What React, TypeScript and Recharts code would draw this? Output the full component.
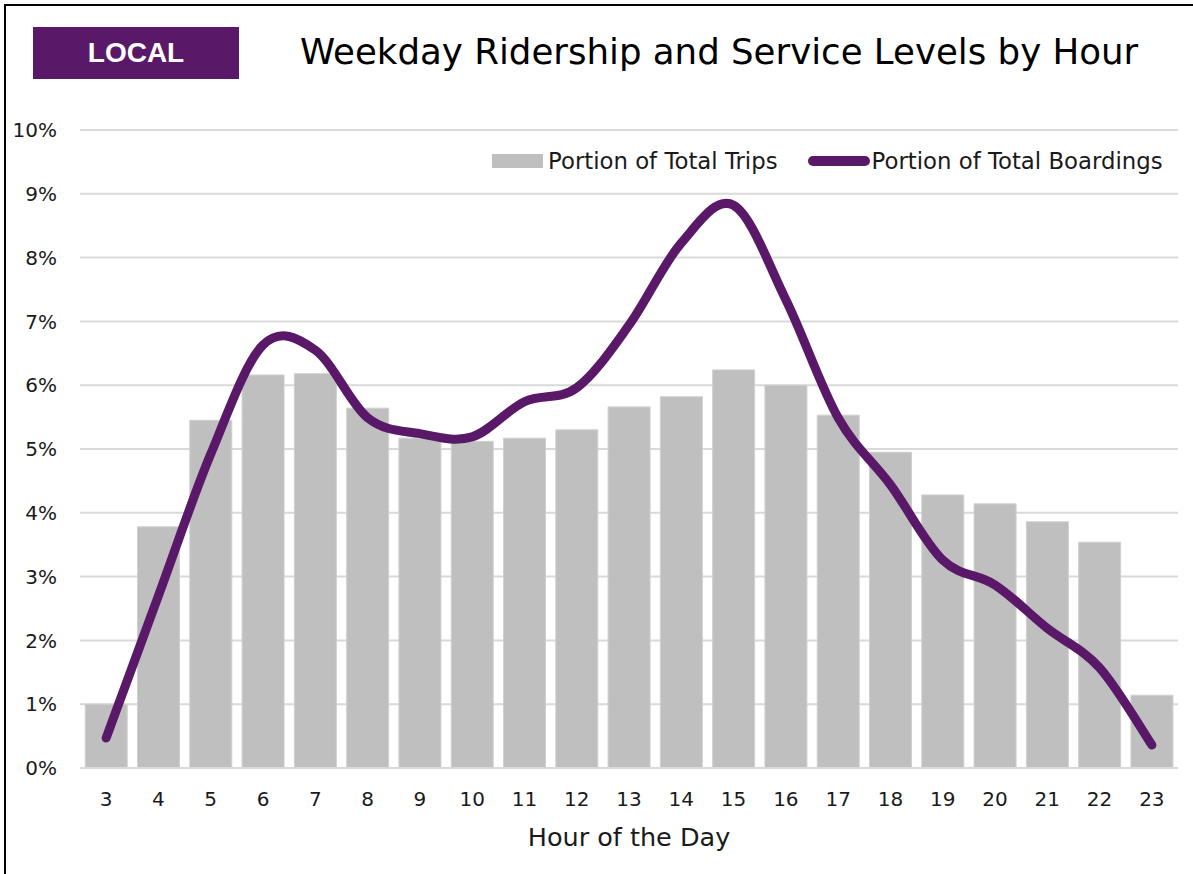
import React from 'react';
import { ComposedChart, Bar, Line, XAxis, YAxis, CartesianGrid } from 'recharts';

const hours = [3, 4, 5, 6, 7, 8, 9, 10, 11, 12, 13, 14, 15, 16, 17, 18, 19, 20, 21, 22, 23];
const tripShare = [1.0, 3.78, 5.45, 6.16, 6.18, 5.64, 5.17, 5.12, 5.17, 5.3, 5.66, 5.82, 6.24, 6.0, 5.53, 4.95, 4.28, 4.14, 3.86, 3.54, 1.14];
const boardingShare = [0.47, 2.7, 4.92, 6.63, 6.55, 5.49, 5.24, 5.19, 5.74, 5.96, 6.94, 8.23, 8.82, 7.34, 5.49, 4.44, 3.26, 2.87, 2.19, 1.57, 0.36];
const yTicks = [0, 1, 2, 3, 4, 5, 6, 7, 8, 9, 10];

const data = hours.map((h, i) => ({ hour: h, trips: tripShare[i], boardings: boardingShare[i] }));

const FONT = '"DejaVu Sans", sans-serif';
const PURPLE = '#5a1868';
const GRAY = '#bfbfbf';

// smooth line like Excel's "smoothed line" (catmull-rom through every point)
const smoothCurve = (context: any) => {
  let pts: number[][] = [];
  return {
    areaStart() {},
    areaEnd() {},
    lineStart() { pts = []; },
    lineEnd() {
      if (!pts.length) return;
      context.moveTo(pts[0][0], pts[0][1]);
      for (let i = 0; i < pts.length - 1; i++) {
        const p0 = pts[i - 1] || pts[i];
        const p1 = pts[i];
        const p2 = pts[i + 1];
        const p3 = pts[i + 2] || p2;
        context.bezierCurveTo(
          p1[0] + (p2[0] - p0[0]) / 6, p1[1] + (p2[1] - p0[1]) / 6,
          p2[0] - (p3[0] - p1[0]) / 6, p2[1] - (p3[1] - p1[1]) / 6,
          p2[0], p2[1]
        );
      }
    },
    point(x: number, y: number) { pts.push([+x, +y]); },
  };
};

const LegendBox = () => (
  <div style={{
    position: 'absolute', left: 492, top: 146, display: 'flex', alignItems: 'center',
    fontFamily: FONT, fontSize: 22.8, color: '#1a1a1a', whiteSpace: 'nowrap', lineHeight: '30px'
  }}>
    <span style={{ display: 'inline-block', width: 51, height: 14, background: GRAY, marginRight: 5 }} />
    <span>Portion of Total Trips</span>
    <span style={{ display: 'inline-block', width: 62, height: 10, borderRadius: 5, background: PURPLE, marginLeft: 30, marginRight: 2 }} />
    <span>Portion of Total Boardings</span>
  </div>
);

export default function App() {
  return (
    <div style={{ position: 'fixed', left: 0, top: 0, width: 1193, height: 874, background: '#fff', overflow: 'hidden' }}>
      <div style={{ position: 'absolute', left: 4, top: 4, width: 1300, height: 1000, borderLeft: '2px solid #000', borderTop: '2px solid #000' }} />
      <div style={{
        position: 'absolute', left: 33, top: 27, width: 206, height: 52, background: PURPLE,
        color: '#fff', fontFamily: '"Liberation Sans", Arial, sans-serif', fontWeight: 700, fontSize: 28,
        display: 'flex', alignItems: 'center', justifyContent: 'center'
      }}>LOCAL</div>
      <div style={{
        position: 'absolute', left: 300, top: 28, fontFamily: FONT, fontSize: 35.6, color: '#000', whiteSpace: 'nowrap', lineHeight: '48px'
      }}>Weekday Ridership and Service Levels by Hour</div>
      <div style={{ position: 'absolute', left: 0, top: 0 }}>
        <ComposedChart width={1193} height={874} data={data} margin={{ top: 130, right: 15, left: 8, bottom: 26 }} barCategoryGap="10%">
          <CartesianGrid vertical={false} stroke="#d9d9d9" strokeWidth={2} />
          <XAxis
            dataKey="hour"
            axisLine={{ stroke: '#d9d9d9', strokeWidth: 2 }}
            tickLine={false}
            tickMargin={18}
            height={80}
            tick={{ fill: '#1a1a1a', fontSize: 20, fontFamily: FONT }}
            label={{ value: 'Hour of the Day', position: 'insideBottom', offset: 2, fill: '#1a1a1a', fontSize: 25.5, fontFamily: FONT }}
          />
          <YAxis
            width={72}
            domain={[0, 10]}
            ticks={yTicks}
            tickFormatter={(v: number) => `${v}%`}
            axisLine={false}
            tickLine={false}
            tickMargin={17}
            tick={{ fill: '#1a1a1a', fontSize: 20, fontFamily: FONT }}
          />
          <Bar dataKey="trips" name="Portion of Total Trips" fill={GRAY} stroke="#d0d0d0" strokeWidth={1} isAnimationActive={false} />
          <Line
            dataKey="boardings"
            name="Portion of Total Boardings"
            type={smoothCurve as any}
            stroke={PURPLE}
            strokeWidth={9}
            strokeLinecap="round"
            dot={false}
            activeDot={false}
            isAnimationActive={false}
          />
        </ComposedChart>
      </div>
      <LegendBox />
    </div>
  );
}
